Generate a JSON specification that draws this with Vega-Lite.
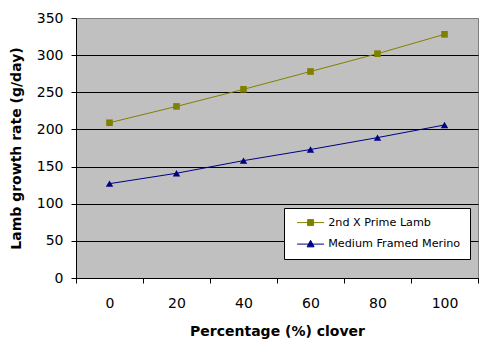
{
  "$schema": "https://vega.github.io/schema/vega-lite/v6.json",
  "width": 402,
  "height": 260,
  "autosize": {"type": "none"},
  "padding": {"left": 76, "top": 18, "right": 25, "bottom": 77},
  "background": "white",
  "config": {
    "view": {"fill": "#C0C0C0", "stroke": "#808080", "strokeWidth": 1},
    "font": "DejaVu Sans"
  },
  "data": {
    "values": [
      {"clover": 0, "rate": 209, "breed": "2nd X Prime Lamb"},
      {"clover": 20, "rate": 231, "breed": "2nd X Prime Lamb"},
      {"clover": 40, "rate": 254, "breed": "2nd X Prime Lamb"},
      {"clover": 60, "rate": 278, "breed": "2nd X Prime Lamb"},
      {"clover": 80, "rate": 302, "breed": "2nd X Prime Lamb"},
      {"clover": 100, "rate": 328, "breed": "2nd X Prime Lamb"},
      {"clover": 0, "rate": 127, "breed": "Medium Framed Merino"},
      {"clover": 20, "rate": 141, "breed": "Medium Framed Merino"},
      {"clover": 40, "rate": 158, "breed": "Medium Framed Merino"},
      {"clover": 60, "rate": 173, "breed": "Medium Framed Merino"},
      {"clover": 80, "rate": 189, "breed": "Medium Framed Merino"},
      {"clover": 100, "rate": 206, "breed": "Medium Framed Merino"}
    ]
  },
  "encoding": {
    "x": {
      "field": "clover",
      "type": "ordinal",
      "scale": {"type": "band", "paddingInner": 0, "paddingOuter": 0},
      "axis": {
        "title": "Percentage (%) clover",
        "tickBand": "extent",
        "labelAngle": 0,
        "grid": false,
        "domainColor": "black",
        "tickColor": "black",
        "tickSize": 5,
        "labelPadding": 13,
        "labelFontSize": 14,
        "labelColor": "black",
        "titleFontSize": 14,
        "titleFontWeight": "bold",
        "titleColor": "black",
        "titlePadding": 14
      }
    },
    "y": {
      "field": "rate",
      "type": "quantitative",
      "scale": {"domain": [0, 350], "nice": false},
      "axis": {
        "title": "Lamb growth rate (g/day)",
        "values": [0, 50, 100, 150, 200, 250, 300, 350],
        "grid": true,
        "gridColor": {"condition": {"test": "datum.value === 350", "value": "#808080"}, "value": "black"},
        "gridOpacity": 1,
        "domainColor": "black",
        "tickColor": "black",
        "tickSize": 5,
        "labelPadding": 8,
        "labelFontSize": 14,
        "labelColor": "black",
        "titleFontSize": 14,
        "titleFontWeight": "bold",
        "titleColor": "black",
        "titlePadding": 13
      }
    },
    "color": {
      "field": "breed",
      "type": "nominal",
      "scale": {"domain": ["2nd X Prime Lamb", "Medium Framed Merino"], "range": ["#808000", "#000080"]},
      "legend": {
        "orient": "none",
        "legendX": 208,
        "legendY": 190,
        "title": null,
        "fillColor": "white",
        "strokeColor": "black",
        "padding": 9,
        "symbolSize": 100,
        "symbolOffset": 12,
        "labelOffset": 12,
        "labelFont": "DejaVu Sans",
        "labelFontSize": 11.2,
        "labelColor": "black",
        "rowPadding": 9.5,
        "encode": {
          "symbols": {
            "update": {
              "shape": {"signal": "datum.value === '2nd X Prime Lamb' ? 'M-2.7,0H2.7M-0.6,-0.6H0.6V0.6H-0.6Z' : 'M-2.7,0H2.7M0,-0.75L0.7,0.55H-0.7Z'"},
              "fill": {"signal": "datum.value === '2nd X Prime Lamb' ? '#808000' : '#000080'"},
              "stroke": {"signal": "datum.value === '2nd X Prime Lamb' ? '#808000' : '#000080'"},
              "strokeWidth": {"value": 1},
              "fillOpacity": {"value": 1},
              "opacity": {"value": 1}
            }
          }
        }
      }
    }
  },
  "layer": [
    {"mark": {"type": "line", "strokeWidth": 1}},
    {
      "transform": [{"filter": "datum.breed === '2nd X Prime Lamb'"}],
      "mark": {"type": "point", "shape": "square", "filled": true, "opacity": 1, "size": 44}
    },
    {
      "transform": [{"filter": "datum.breed === 'Medium Framed Merino'"}],
      "mark": {"type": "point", "shape": "triangle-up", "filled": true, "opacity": 1, "size": 55}
    }
  ]
}
